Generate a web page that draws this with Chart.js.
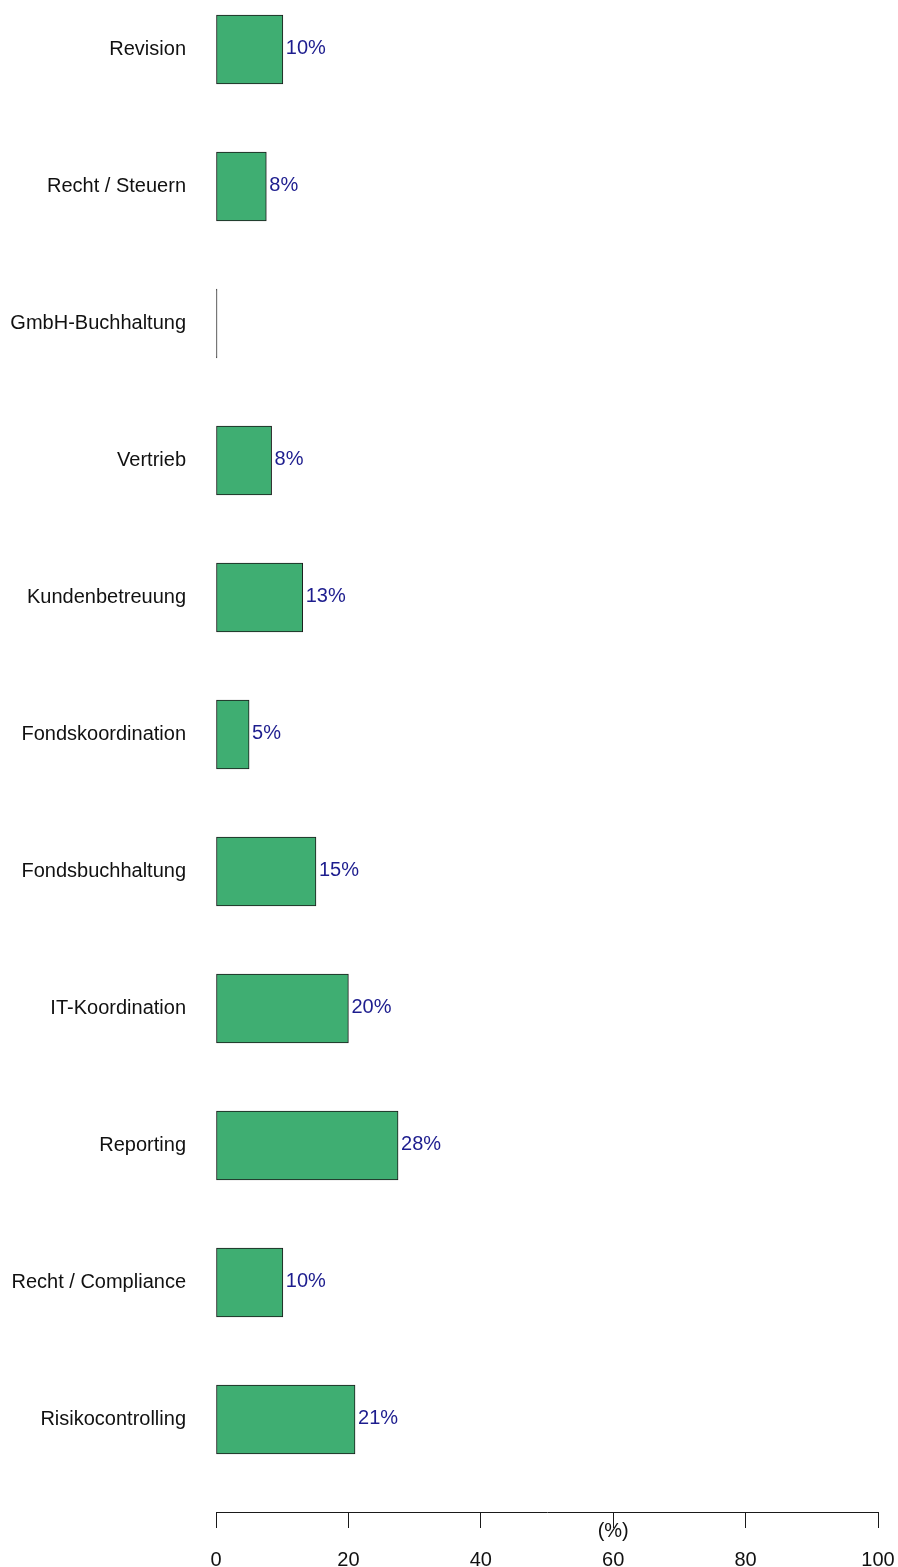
<!DOCTYPE html>
<html>
<head>
<meta charset="utf-8">
<script src="https://cdn.jsdelivr.net/npm/chart.js@4/dist/chart.umd.min.js"></script>
<style>
  html, body { margin: 0; padding: 0; background: #fff; }
  #wrap { width: 898px; height: 1567px; }
</style>
</head>
<body>
<div id="wrap"><canvas id="bars" width="898" height="1567"></canvas></div>
<script>
// categories top to bottom
const categories = [
  'Revision', 'Recht / Steuern', 'GmbH-Buchhaltung', 'Vertrieb',
  'Kundenbetreuung', 'Fondskoordination', 'Fondsbuchhaltung',
  'IT-Koordination', 'Reporting', 'Recht / Compliance', 'Risikocontrolling',
];
// share in percent
const shares = [10.1, 7.6, 0, 8.4, 13.1, 5.0, 15.1, 20.0, 27.5, 10.1, 21.0];
const xTicks = [0, 20, 40, 60, 80, 100];
const axisUnit = '(%)';

const FONT = '"Liberation Sans", Arial, sans-serif';

// prints "10%" etc. right of each bar, skips the empty one
const valueLabels = {
  id: 'valueLabels',
  afterDatasetsDraw(chart) {
    const ctx = chart.ctx;
    const meta = chart.getDatasetMeta(0);
    ctx.save();
    ctx.font = '20px ' + FONT;
    ctx.fillStyle = '#1d1d8e';
    ctx.textAlign = 'left';
    ctx.textBaseline = 'middle';
    meta.data.forEach((bar, i) => {
      if (!shares[i]) return;
      ctx.fillText(Math.round(shares[i]) + '%', bar.x + 3, bar.y - 1);
    });
    ctx.restore();
  },
};

// unit text sitting on the x axis
const unitLabel = {
  id: 'unitLabel',
  afterDraw(chart) {
    const x = chart.scales.x;
    const ctx = chart.ctx;
    ctx.save();
    ctx.font = '20px ' + FONT;
    ctx.fillStyle = '#111';
    ctx.textAlign = 'center';
    ctx.textBaseline = 'middle';
    ctx.fillText(axisUnit, x.getPixelForValue(60), x.top + 19);
    ctx.restore();
  },
};

const config = {
  type: 'bar',
  data: {
    datasets: [
      {
        data: shares.map((v, i) => ({ x: v, y: i })),
        backgroundColor: ctx => (ctx.raw && ctx.raw.x === 0 ? '#1a1a1a' : '#3fae72'),
        borderColor: '#1a1a1a',
        borderWidth: 1,
        borderSkipped: false,
        barThickness: 69,
        minBarLength: 1,
        clip: false,
      },
    ],
  },
  options: {
    indexAxis: 'y',
    responsive: false,
    animation: false,
    layout: { padding: { left: 0, right: 20, top: 0, bottom: 0 } },
    plugins: {
      legend: { display: false },
      tooltip: { enabled: false },
    },
    scales: {
      y: {
        type: 'linear',
        reverse: true,
        offset: false,
        min: -0.361,
        max: 10.675,
        grid: { display: false, drawTicks: false, offset: false },
        border: { display: false },
        afterBuildTicks: s => {
          s.ticks = categories.map((c, i) => ({ value: i }));
        },
        afterFit: s => {
          s.width = 216;
          s.paddingTop = 0;
          s.paddingBottom = 0;
        },
        ticks: {
          padding: 30,
          color: '#111',
          font: { family: FONT, size: 20 },
          callback: v => categories[v],
        },
      },
      x: {
        type: 'linear',
        min: 0,
        max: 100,
        grid: { drawOnChartArea: false, drawTicks: true, tickLength: 16, color: '#1a1a1a' },
        border: { display: true, color: '#1a1a1a', width: 1 },
        afterBuildTicks: s => {
          s.ticks = xTicks.map(v => ({ value: v }));
        },
        afterFit: s => {
          s.height = 55;
          s.paddingLeft = 0;
          s.paddingRight = 0;
        },
        ticks: {
          padding: 20,
          color: '#111',
          maxRotation: 0,
          font: { family: FONT, size: 20 },
        },
      },
    },
  },
  plugins: [valueLabels, unitLabel],
};

const chart = new Chart(document.getElementById('bars'), config);
</script>
</body>
</html>
